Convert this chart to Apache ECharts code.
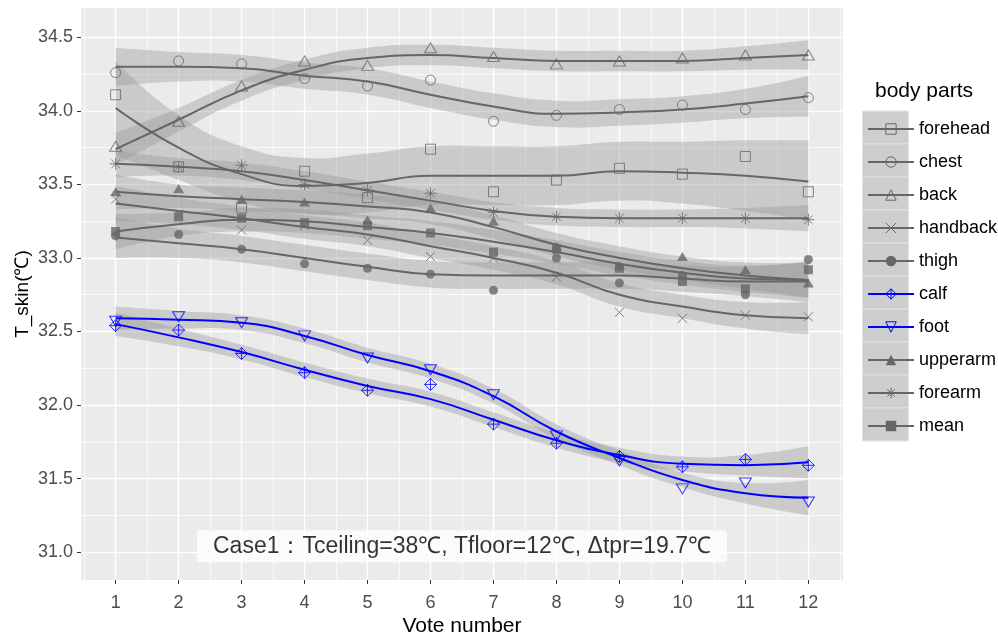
<!DOCTYPE html>
<html><head><meta charset="utf-8">
<script src="https://cdn.jsdelivr.net/npm/echarts@6/dist/echarts.min.js"></script>
<style>html,body{margin:0;padding:0;background:#fff}#c{width:998px;height:636px}</style>
</head><body><div id="c"></div>
<script>
// ---------- data ----------
const voteNumbers = [1, 2, 3, 4, 5, 6, 7, 8, 9, 10, 11, 12];
const yTickValues = [31.0, 31.5, 32.0, 32.5, 33.0, 33.5, 34.0, 34.5];
const bodyParts = ['forehead', 'chest', 'back', 'handback', 'thigh', 'calf', 'foot', 'upperarm', 'forearm', 'mean'];

const foreheadPts = [34.11, 33.62, 33.34, 33.59, 33.41, 33.74, 33.45, 33.53, 33.61, 33.57, 33.69, 33.45];
const foreheadFit = [34.02, 33.75, 33.57, 33.49, 33.51, 33.56, 33.56, 33.56, 33.59, 33.58, 33.56, 33.52];
const foreheadLo  = [33.70, 33.53, 33.38, 33.30, 33.31, 33.36, 33.36, 33.36, 33.39, 33.37, 33.32, 33.26];
const foreheadHi  = [34.34, 33.97, 33.76, 33.68, 33.71, 33.76, 33.76, 33.76, 33.79, 33.79, 33.80, 33.80];

const chestPts = [34.26, 34.34, 34.32, 34.22, 34.17, 34.21, 33.93, 33.97, 34.01, 34.04, 34.01, 34.09];
const chestFit = [34.30, 34.30, 34.29, 34.24, 34.20, 34.11, 34.03, 33.98, 33.99, 34.01, 34.05, 34.10];
const chestLo  = [34.17, 34.20, 34.20, 34.15, 34.11, 34.02, 33.94, 33.89, 33.90, 33.92, 33.95, 33.96];
const chestHi  = [34.43, 34.40, 34.38, 34.33, 34.29, 34.20, 34.12, 34.07, 34.08, 34.10, 34.15, 34.24];

const backPts = [33.76, 33.93, 34.17, 34.34, 34.31, 34.43, 34.37, 34.32, 34.34, 34.36, 34.38, 34.38];
const backFit = [33.74, 33.94, 34.14, 34.28, 34.36, 34.38, 34.36, 34.34, 34.34, 34.34, 34.36, 34.38];
const backLo  = [33.63, 33.86, 34.07, 34.21, 34.29, 34.31, 34.29, 34.27, 34.27, 34.27, 34.28, 34.28];
const backHi  = [33.85, 34.02, 34.21, 34.35, 34.43, 34.45, 34.43, 34.41, 34.41, 34.41, 34.44, 34.48];

const handbackPts = [33.40, 33.30, 33.19, 33.22, 33.12, 33.01, 33.00, 32.87, 32.63, 32.59, 32.61, 32.60];
const handbackFit = [33.37, 33.32, 33.27, 33.21, 33.16, 33.08, 33.00, 32.90, 32.75, 32.67, 32.61, 32.59];
const handbackLo  = [33.25, 33.23, 33.19, 33.13, 33.08, 33.00, 32.92, 32.82, 32.67, 32.59, 32.52, 32.48];
const handbackHi  = [33.49, 33.41, 33.35, 33.29, 33.24, 33.16, 33.08, 32.98, 32.83, 32.75, 32.70, 32.70];

const thighPts = [33.15, 33.16, 33.06, 32.96, 32.93, 32.89, 32.78, 33.00, 32.83, 32.88, 32.75, 32.99];
const thighFit = [33.14, 33.10, 33.06, 33.00, 32.94, 32.89, 32.88, 32.88, 32.88, 32.86, 32.84, 32.84];
const thighLo  = [33.00, 33.00, 32.97, 32.91, 32.85, 32.80, 32.79, 32.79, 32.79, 32.77, 32.74, 32.70];
const thighHi  = [33.28, 33.20, 33.15, 33.09, 33.03, 32.98, 32.97, 32.97, 32.97, 32.95, 32.94, 32.98];

const calfPts = [32.54, 32.51, 32.35, 32.22, 32.10, 32.14, 31.87, 31.74, 31.65, 31.58, 31.63, 31.59];
const calfFit = [32.55, 32.46, 32.36, 32.24, 32.13, 32.04, 31.90, 31.76, 31.66, 31.60, 31.59, 31.61];
const calfLo  = [32.47, 32.40, 32.31, 32.19, 32.08, 31.99, 31.85, 31.71, 31.61, 31.55, 31.52, 31.50];
const calfHi  = [32.63, 32.52, 32.41, 32.29, 32.18, 32.09, 31.95, 31.81, 31.71, 31.65, 31.66, 31.72];

const footPts = [32.57, 32.60, 32.56, 32.47, 32.32, 32.24, 32.07, 31.79, 31.62, 31.43, 31.47, 31.34];
const footFit = [32.59, 32.58, 32.56, 32.47, 32.34, 32.23, 32.06, 31.82, 31.64, 31.49, 31.40, 31.37];
const footLo  = [32.51, 32.52, 32.51, 32.42, 32.29, 32.18, 32.01, 31.77, 31.59, 31.44, 31.33, 31.25];
const footHi  = [32.67, 32.64, 32.61, 32.52, 32.39, 32.28, 32.11, 31.87, 31.69, 31.54, 31.47, 31.49];

const upperarmPts = [33.45, 33.47, 33.40, 33.38, 33.26, 33.34, 33.25, 33.08, 32.95, 33.01, 32.92, 32.83];
const upperarmFit = [33.45, 33.42, 33.40, 33.38, 33.35, 33.31, 33.21, 33.09, 33.00, 32.93, 32.88, 32.85];
const upperarmLo  = [33.33, 33.34, 33.32, 33.30, 33.27, 33.23, 33.13, 33.01, 32.92, 32.85, 32.79, 32.73];
const upperarmHi  = [33.57, 33.50, 33.48, 33.46, 33.43, 33.39, 33.29, 33.17, 33.08, 33.01, 32.97, 32.97];

const forearmPts = [33.64, 33.62, 33.63, 33.50, 33.46, 33.44, 33.31, 33.28, 33.27, 33.27, 33.27, 33.26];
const forearmFit = [33.64, 33.62, 33.59, 33.53, 33.46, 33.39, 33.32, 33.28, 33.27, 33.27, 33.27, 33.27];
const forearmLo  = [33.55, 33.56, 33.53, 33.47, 33.40, 33.33, 33.26, 33.22, 33.21, 33.21, 33.20, 33.18];
const forearmHi  = [33.73, 33.68, 33.65, 33.59, 33.52, 33.45, 33.38, 33.34, 33.33, 33.33, 33.34, 33.36];

const meanPts = [33.18, 33.28, 33.27, 33.24, 33.22, 33.17, 33.04, 33.06, 32.93, 32.84, 32.79, 32.92];
const meanFit = [33.18, 33.23, 33.26, 33.25, 33.21, 33.17, 33.11, 33.04, 32.96, 32.90, 32.86, 32.85];
const meanLo  = [33.06, 33.15, 33.18, 33.17, 33.13, 33.09, 33.03, 32.96, 32.88, 32.82, 32.77, 32.73];
const meanHi  = [33.30, 33.31, 33.34, 33.33, 33.29, 33.25, 33.19, 33.12, 33.04, 32.98, 32.95, 32.97];

const annoX = 6.5;
const annoY = 31.04;
const annoText = 'Case1：Tceiling=38℃, Tfloor=12℃, Δtpr=19.7℃';

// ---------- styling ----------
const FONT = '"Liberation Sans", Arial, sans-serif';
const GRAY = '#666666', BLUE = '#0000ff';
const SMOOTH = 0.5;
const SYM_X = 'path://M0,0L10,10M10,0L0,10';
const SYM_AST = 'path://M2,2L12,12M12,2L2,12M7,0L7,14M0,7L14,7';
const SYM_DPLUS = 'path://M6,0L12,6L6,12L0,6ZM6,0L6,12M0,6L12,6';
const SYM_DTRI = 'path://M0,0L12,0L6,10.4Z';

const partData = {
  forehead: [foreheadPts, foreheadFit, foreheadLo, foreheadHi],
  chest: [chestPts, chestFit, chestLo, chestHi],
  back: [backPts, backFit, backLo, backHi],
  handback: [handbackPts, handbackFit, handbackLo, handbackHi],
  thigh: [thighPts, thighFit, thighLo, thighHi],
  calf: [calfPts, calfFit, calfLo, calfHi],
  foot: [footPts, footFit, footLo, footHi],
  upperarm: [upperarmPts, upperarmFit, upperarmLo, upperarmHi],
  forearm: [forearmPts, forearmFit, forearmLo, forearmHi],
  mean: [meanPts, meanFit, meanLo, meanHi]
};
const partStyle = {
  forehead: { color: GRAY, symbol: 'rect', size: 10, filled: false },
  chest:    { color: GRAY, symbol: 'circle', size: 10, filled: false },
  back:     { color: GRAY, symbol: 'triangle', size: [12, 10], filled: false },
  handback: { color: GRAY, symbol: SYM_X, size: 9, filled: false },
  thigh:    { color: GRAY, symbol: 'circle', size: 9, filled: true },
  calf:     { color: BLUE, symbol: SYM_DPLUS, size: 12, filled: false },
  foot:     { color: BLUE, symbol: SYM_DTRI, size: [12, 10], filled: false },
  upperarm: { color: GRAY, symbol: 'triangle', size: [11, 9], filled: true },
  forearm:  { color: GRAY, symbol: SYM_AST, size: 12, filled: false },
  mean:     { color: GRAY, symbol: 'rect', size: 9, filled: true }
};
function itemStyleOf(st) {
  return { color: st.filled ? st.color : 'rgba(0,0,0,0)', borderColor: st.color, borderWidth: st.filled ? 0 : 1 };
}
const pair = arr => voteNumbers.map((x, i) => [x, arr[i]]);

// smooth curve through pixel points (same scheme as ECharts' line smoothing)
function curveCmds(p, s) {
  const n = p.length, cpPrev = [], cpNext = [];
  for (let i = 0; i < n; i++) {
    if (i === 0 || i === n - 1) { cpPrev[i] = p[i]; cpNext[i] = p[i]; continue; }
    const vx = p[i + 1][0] - p[i - 1][0], vy = p[i + 1][1] - p[i - 1][1];
    const lp = Math.hypot(p[i][0] - p[i - 1][0], p[i][1] - p[i - 1][1]);
    const ln = Math.hypot(p[i + 1][0] - p[i][0], p[i + 1][1] - p[i][1]);
    const r = ln / (ln + lp || 1);
    cpNext[i] = [p[i][0] + vx * s * r, p[i][1] + vy * s * r];
    cpPrev[i] = [p[i][0] - vx * s * (1 - r), p[i][1] - vy * s * (1 - r)];
  }
  let d = '';
  for (let i = 0; i < n - 1; i++) {
    d += ' C' + cpNext[i][0] + ',' + cpNext[i][1] + ' ' + cpPrev[i + 1][0] + ',' + cpPrev[i + 1][1] + ' ' + p[i + 1][0] + ',' + p[i + 1][1];
  }
  return d;
}
function bandRenderItem(params, api) {
  if (params.dataIndexInside !== 0) return null;
  const n = params.dataInsideLength;
  const up = [], dn = [];
  for (let i = 0; i < n; i++) {
    up.push(api.coord([api.value(0, i), api.value(2, i)]));
    dn.push(api.coord([api.value(0, i), api.value(1, i)]));
  }
  const rdn = dn.slice().reverse();
  const d = 'M' + up[0][0] + ',' + up[0][1] + curveCmds(up, SMOOTH) +
    ' L' + rdn[0][0] + ',' + rdn[0][1] + curveCmds(rdn, SMOOTH) + ' Z';
  return { type: 'path', shape: { pathData: d }, style: { fill: 'rgba(153,153,153,0.4)', stroke: null } };
}

const lineSeries = [], bandSeries = [], pointSeries = [];
bodyParts.forEach(name => {
  const [pts, fit, lo, hi] = partData[name];
  const st = partStyle[name];
  lineSeries.push({
    type: 'line', name, data: pair(fit), smooth: SMOOTH, showSymbol: false,
    symbol: st.symbol, symbolSize: st.size, itemStyle: itemStyleOf(st),
    lineStyle: { color: st.color, width: 2 }, z: 4, silent: true,
    emphasis: { disabled: true }
  });
  bandSeries.push({
    type: 'custom', name, coordinateSystem: 'cartesian2d',
    data: voteNumbers.map((x, i) => [x, lo[i], hi[i]]),
    encode: { x: 0, y: [1, 2] }, renderItem: bandRenderItem, clip: true, z: 3, silent: true
  });
  pointSeries.push({
    type: 'scatter', name, data: pair(pts), symbol: st.symbol, symbolSize: st.size,
    itemStyle: itemStyleOf(st), z: 5, silent: true
  });
});

const annoSeries = {
  type: 'scatter', name: 'annotation', data: [[annoX, annoY]], symbol: 'circle', symbolSize: 1,
  itemStyle: { color: 'rgba(0,0,0,0)' }, z: 7, silent: true,
  label: {
    show: true, position: 'inside', formatter: annoText,
    fontFamily: FONT, fontSize: 23, color: '#000', backgroundColor: '#ffffff',
    padding: [5, 16, 4, 16], borderRadius: 3
  }
};

const keyRects = bodyParts.map((n, i) => ({
  type: 'rect', left: 862, top: 110.5 + i * 33, silent: true, z: 0,
  shape: { width: 46, height: 33 },
  style: { fill: '#CECECE', stroke: '#E2E2E2', lineWidth: 1 }
}));

const chart = echarts.init(document.getElementById('c'), null, { renderer: 'canvas' });
chart.setOption({
  animation: false,
  backgroundColor: '#ffffff',
  textStyle: { fontFamily: FONT },
  title: {
    text: 'body parts', left: 870, top: 76,
    textStyle: { fontFamily: FONT, fontSize: 21, fontWeight: 'normal', color: '#000' }
  },
  grid: { left: 81, right: 155, top: 8, bottom: 56, show: true, backgroundColor: '#EBEBEB', borderWidth: 0,
    outerBoundsMode: 'none', containLabel: false },
  xAxis: {
    type: 'value', min: 0.45, max: 12.55, minInterval: 1, maxInterval: 1,
    name: 'Vote number', nameLocation: 'middle', nameGap: 36, nameMoveOverlap: false,
    nameTextStyle: { fontFamily: FONT, fontSize: 21, color: '#000' },
    axisLine: { show: false },
    axisTick: { show: true, length: 4, customValues: voteNumbers, lineStyle: { color: '#333', width: 1 } },
    axisLabel: { customValues: voteNumbers, fontFamily: FONT, fontSize: 18, color: '#4D4D4D', margin: 14 },
    splitLine: { show: true, lineStyle: { color: '#ffffff', width: 1.4 } },
    minorTick: { show: false, splitNumber: 2 },
    minorSplitLine: { show: true, lineStyle: { color: '#ffffff', width: 0.7 } }
  },
  yAxis: {
    type: 'value', min: 30.81, max: 34.70, minInterval: 0.5, maxInterval: 0.5,
    name: 'T_skin(℃)', nameLocation: 'middle', nameGap: 49, nameMoveOverlap: false,
    nameTextStyle: { fontFamily: FONT, fontSize: 19, color: '#000' },
    axisLine: { show: false },
    axisTick: { show: true, length: 4, customValues: yTickValues, lineStyle: { color: '#333', width: 1 } },
    axisLabel: { customValues: yTickValues, fontFamily: FONT, fontSize: 18, color: '#4D4D4D', margin: 8,
      formatter: v => Number(v).toFixed(1) },
    splitLine: { show: true, lineStyle: { color: '#ffffff', width: 1.4 } },
    minorTick: { show: false, splitNumber: 2 },
    minorSplitLine: { show: true, lineStyle: { color: '#ffffff', width: 0.7 } }
  },
  legend: {
    orient: 'vertical', left: 862, top: 115, itemWidth: 46, itemHeight: 13, itemGap: 15,
    selectedMode: false,
    textStyle: { fontFamily: FONT, fontSize: 18, lineHeight: 18, color: '#000', padding: [0, 0, 0, 0] },
    data: bodyParts.map(n => {
      const st = partStyle[n];
      return { name: n, itemStyle: itemStyleOf(st), lineStyle: { color: st.color, width: 2 } };
    })
  },
  graphic: { elements: keyRects },
  series: [].concat(lineSeries, bandSeries, pointSeries, [annoSeries])
});
</script>
</body></html>
